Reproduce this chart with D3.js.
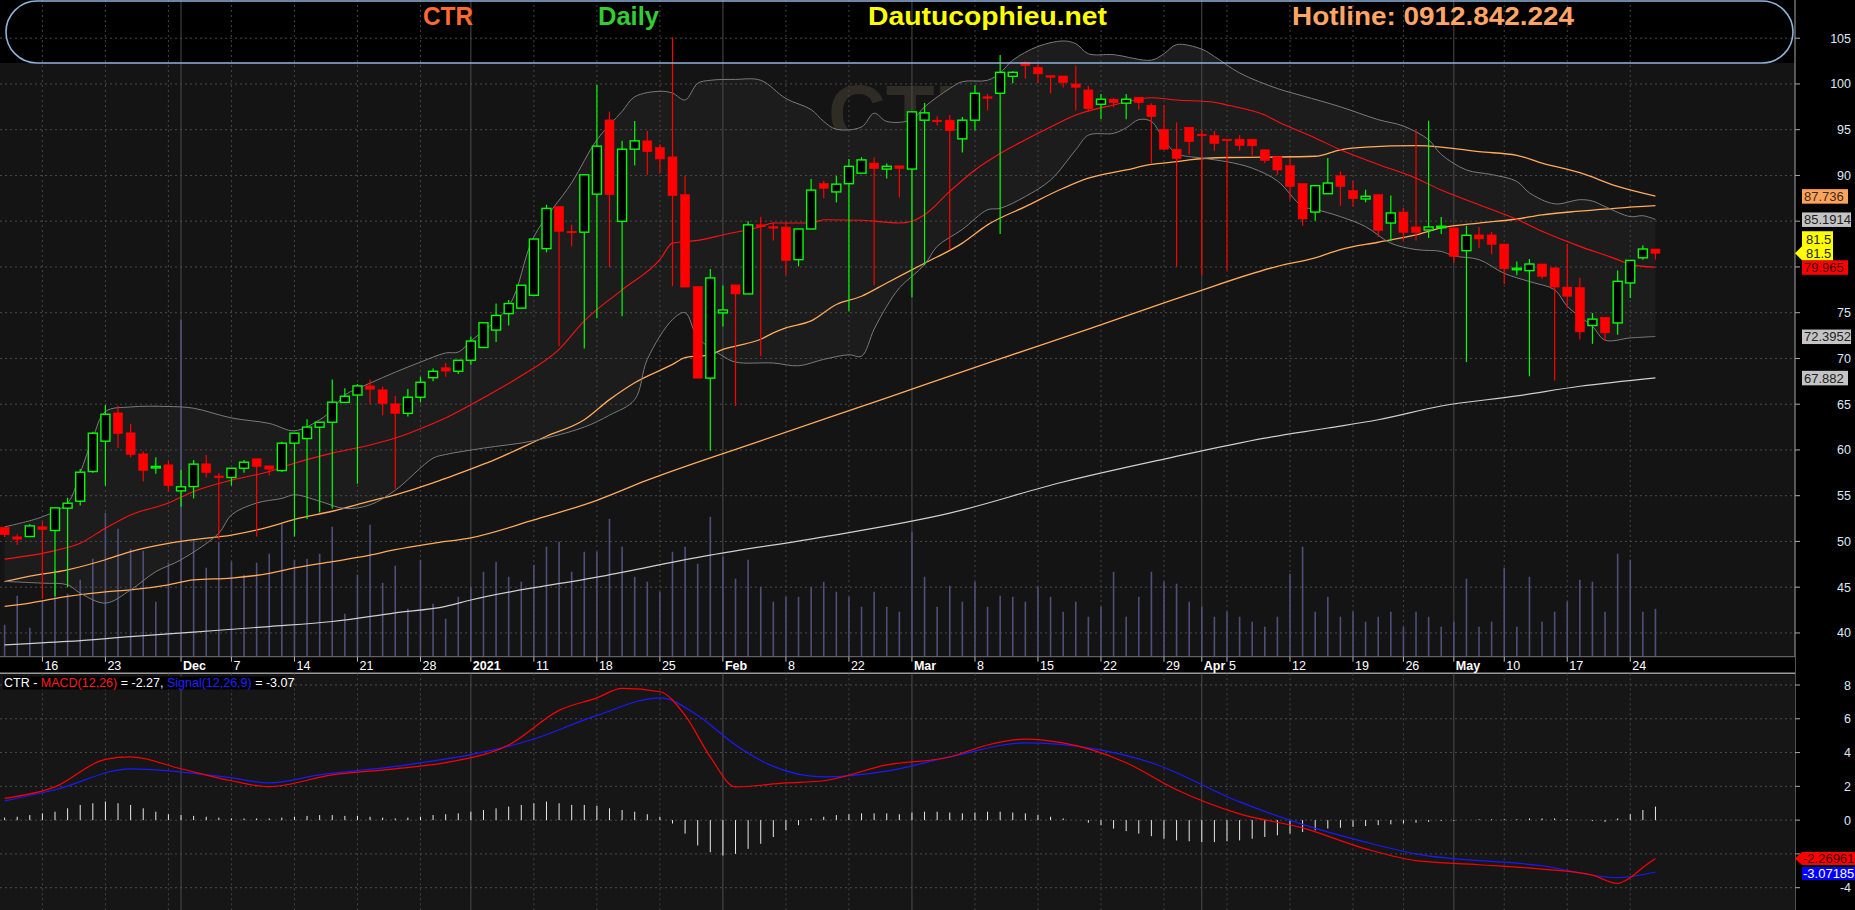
<!DOCTYPE html>
<html><head><meta charset="utf-8">
<script src="https://cdn.jsdelivr.net/npm/d3@7"></script>
<style>body{margin:0;background:#000;overflow:hidden}svg{display:block}</style>
</head><body><svg id="c" width="1855" height="910"></svg>
<script>
// ---------------- DATA ----------------
const dates = [
"11/11","12/11","13/11","16/11","17/11","18/11","19/11","20/11","23/11","24/11","25/11","26/11","27/11","30/11",
"01/12","02/12","03/12","04/12","07/12","08/12","09/12","10/12","11/12","14/12","15/12","16/12","17/12","18/12","21/12","22/12","23/12","24/12","25/12","28/12","29/12","30/12","31/12",
"04/01","05/01","06/01","07/01","08/01","11/01","12/01","13/01","14/01","15/01","18/01","19/01","20/01","21/01","22/01","25/01","26/01","27/01","28/01","29/01",
"01/02","02/02","03/02","04/02","05/02","08/02","09/02","17/02","18/02","19/02","22/02","23/02","24/02","25/02","26/02",
"01/03","02/03","03/03","04/03","05/03","08/03","09/03","10/03","11/03","12/03","15/03","16/03","17/03","18/03","19/03","22/03","23/03","24/03","25/03","26/03","29/03","30/03","31/03",
"01/04","02/04","05/04","06/04","07/04","08/04","09/04","12/04","13/04","14/04","15/04","16/04","19/04","20/04","22/04","23/04","26/04","27/04","28/04","29/04",
"04/05","05/05","06/05","07/05","10/05","11/05","12/05","13/05","14/05","17/05","18/05","19/05","20/05","21/05","24/05","25/05","26/05"];

const open = [51.53,50.5,50.54,51.6,51.2,53.64,54.4,57.64,60.96,64.05,61.87,59.57,58.15,58.37,
55.53,56.0,58.48,57.15,56.99,58.0,59.03,58.26,57.75,60.74,61.25,62.49,63.03,65.2,66.0,67.0,66.57,65.04,64.0,65.76,67.9,68.98,68.6,
69.8,71.2,73.1,74.9,75.5,76.9,82.0,86.6,83.9,83.8,87.96,96.07,84.98,92.87,93.78,93.05,92.03,87.9,77.85,67.85,
74.98,78.04,77.05,84.6,84.4,84.36,80.8,84.15,89.1,88.2,89.1,90.25,91.35,90.7,91.05,
90.7,96.04,96.04,96.04,94.0,96.04,98.6,98.98,100.84,102.36,101.8,100.9,100.87,100.0,99.35,97.78,98.33,97.9,98.55,97.67,95.05,92.87,95.27,
94.5,94.36,93.96,93.96,93.96,92.8,92.07,91.07,89.1,86.0,88.0,89.97,88.34,87.43,87.9,84.8,86.0,84.37,84.04,84.4,
84.26,81.78,83.5,83.5,82.5,79.8,79.6,80.32,79.9,77.8,77.74,73.6,74.5,73.88,78.25,81.0,81.96];
const high = [51.6,50.8,51.9,52.2,53.7,54.77,57.93,62.0,64.93,64.85,62.85,59.86,59.2,58.85,
57.8,58.9,59.46,57.46,58.0,58.9,59.03,58.26,60.9,61.83,63.36,63.03,67.7,66.75,67.2,67.7,66.9,65.9,66.67,68.0,68.9,69.5,69.8,
72.4,73.9,76.0,76.4,78.0,83.05,86.8,86.6,84.6,90.07,99.9,96.98,93.78,95.96,94.87,93.4,105.1,89.96,77.85,79.78,
77.96,78.04,85.0,85.5,84.9,84.87,84.15,89.6,89.4,89.96,91.8,92.0,91.96,91.3,91.05,
96.95,97.93,96.47,96.6,96.4,99.85,98.9,103.16,101.4,102.47,102.18,100.9,100.87,102.0,99.78,98.9,98.44,98.9,98.55,97.9,97.7,95.8,95.27,
94.98,94.87,93.96,94.4,93.96,92.8,92.07,91.9,89.1,88.88,91.9,90.45,89.46,88.45,87.9,87.8,86.44,94.93,95.98,85.46,
84.26,84.5,84.37,83.82,82.5,80.6,80.87,80.32,79.9,82.5,78.8,74.97,74.5,79.6,80.72,82.36,81.96];
const low = [50.5,49.6,50.5,43.7,44.0,45.0,53.93,57.5,56.08,60.2,59.2,56.55,57.4,55.45,
53.8,54.7,57.0,50.18,56.1,57.5,50.54,57.2,57.6,50.54,52.44,53.17,53.6,65.2,56.3,65.0,63.8,55.75,63.65,65.2,67.5,68.0,68.3,
69.3,71.2,71.8,73.6,75.5,76.9,81.6,71.35,82.25,71.1,74.4,79.96,74.6,91.1,90.07,90.2,77.9,77.8,67.85,59.9,
73.5,64.8,77.05,70.25,82.9,79.1,80.07,84.15,87.5,87.05,75.16,90.25,78.0,89.67,87.6,
76.7,80.2,95.45,81.9,92.5,94.9,97.1,83.6,100.07,100.58,100.07,98.98,99.6,97.1,96.98,96.15,97.45,96.15,97.2,91.35,92.8,80.0,92.25,
79.1,92.7,79.6,92.7,92.15,91.35,90.07,87.35,84.5,85.06,88.0,86.7,86.62,87.06,83.27,82.8,82.8,82.9,83.16,83.6,
80.43,69.6,82.07,81.4,78.14,79.1,68.05,78.7,67.6,75.5,72.06,71.6,71.95,72.6,76.6,80.8,80.8];
const close = [50.73,50.25,51.7,51.3,53.67,54.18,57.57,61.83,63.9,61.8,59.5,57.75,58.2,56.1,
55.97,58.45,57.53,57.1,58.0,58.66,58.19,57.9,60.74,61.83,62.5,63.03,65.22,65.87,67.0,66.64,65.07,64.0,65.76,67.4,68.6,68.62,69.8,
71.9,73.9,74.7,76.0,78.0,83.05,86.4,83.9,83.8,90.07,93.2,87.9,92.87,93.78,92.6,91.8,87.8,77.8,67.85,78.8,
75.3,77.05,84.6,84.4,84.35,80.7,84.15,88.4,88.6,89.05,91.0,91.7,90.76,91.0,90.76,
96.95,96.84,96.0,94.9,96.04,98.98,98.5,101.27,101.27,102.0,101.1,100.85,100.15,99.64,97.3,98.33,97.96,98.33,97.96,96.44,92.87,91.85,93.7,
94.45,93.5,93.9,93.27,93.24,91.64,90.6,88.8,85.24,88.88,89.17,88.8,87.46,87.72,84.0,85.9,83.78,83.78,84.37,84.45,
81.16,83.46,83.06,82.47,79.8,79.86,80.32,78.98,77.8,76.8,72.9,74.3,72.8,78.43,80.72,81.96,81.5];
// volume, thousand shares
const volume = [32,61,29,55,87,63,77,98,144,128,108,106,55,94,
337,117,89,115,95,82,94,103,133,97,98,103,130,43,82,132,74,91,48,97,53,38,60,
70,85,95,80,75,92,110,115,85,105,105,138,110,80,75,65,105,110,93,140,
100,78,97,70,55,60,60,70,75,65,60,50,65,50,45,
125,80,50,71,55,75,50,61,60,55,70,60,45,55,40,50,85,40,60,85,75,73,55,
50,40,45,40,35,30,40,83,110,45,60,40,45,35,40,45,30,45,40,30,
35,78,30,35,89,30,80,35,45,55,77,75,45,103,97,45,48];

// indicator lines sampled as [bar index, value]
const ma20 = [[0,48.07],[4,49.0],[6,49.8],[8,51.45],[10,52.9],[13,54.2],[15,55.46],[18,56.7],[21,57.65],[23,58.55],[26,59.65],[29,60.55],[31,61.3],[34,62.9],[35,63.5],[38,65.7],[41,68.1],[44,71.0],[46,74.1],[49,77.5],[52,80.8],[53,82.6],[55,82.9],[57,83.5],[60,84.4],[61,84.8],[64,84.8],[65,85.16],[68,85.1],[71,84.8],[72,85.0],[73,85.7],[75,88.25],[77,90.6],[79,92.4],[81,93.9],[83,95.3],[85,96.6],[88,97.7],[91,98.5],[93,98.25],[96,98.0],[97,97.7],[100,96.6],[101,95.9],[104,94.1],[106,92.8],[109,91.2],[112,89.7],[114,88.4],[117,86.8],[120,85.2],[122,83.9],[125,82.25],[128,80.8],[129,80.25],[131,79.965]];
const bbUpper = [[0,51.6],[3,52.7],[5,54.2],[6,57.5],[7,61.3],[8,64.2],[10,64.7],[13,64.75],[15,64.56],[18,63.5],[21,62.9],[23,62.1],[25,63.3],[26,64.4],[27,66.0],[29,67.3],[31,68.5],[33,69.6],[35,70.6],[36,70.7],[37,71.9],[40,75.7],[42,83.3],[45,89.2],[47,93.9],[49,97.0],[50,98.6],[52,99.2],[53,99.0],[54,98.25],[55,100.07],[56,100.4],[58,100.5],[60,100.4],[62,98.4],[64,97.2],[65,95.9],[66,95.05],[68,95.3],[69,96.8],[70,95.9],[72,96.1],[73,97.5],[75,99.5],[76,100.25],[78,100.4],[79,101.2],[80,102.6],[82,104.1],[84,104.7],[85,104.4],[86,103.3],[88,103.2],[91,102.6],[92,103.3],[93,104.3],[95,103.8],[96,103.0],[98,101.2],[101,99.5],[103,98.7],[106,97.5],[109,96.1],[111,95.4],[113,93.9],[114,92.3],[116,90.6],[118,90.1],[120,89.35],[121,88.1],[123,86.9],[125,87.35],[126,87.2],[127,86.6],[129,85.5],[130,85.6],[131,85.19]];
const bbLower = [[0,45.63],[3,45.44],[5,45.26],[6,44.35],[8,43.26],[10,44.7],[12,46.7],[14,48.0],[17,50.9],[18,52.9],[20,54.2],[22,54.7],[23,55.1],[25,54.4],[27,53.6],[29,54.0],[31,55.6],[34,59.1],[35,59.5],[38,60.2],[42,61.0],[46,62.5],[48,63.8],[50,65.5],[51,69.9],[53,74.25],[54,75.0],[55,72.3],[57,70.25],[58,69.6],[61,69.5],[63,69.2],[65,69.9],[67,70.4],[68,70.25],[69,73.2],[70,75.7],[71,77.7],[73,80.25],[74,82.25],[76,84.1],[78,86.25],[79,86.4],[81,87.7],[83,89.5],[85,92.8],[86,94.4],[88,94.6],[89,95.2],[90,96.1],[91,95.9],[92,93.9],[93,92.4],[95,91.9],[97,91.5],[99,90.8],[101,89.4],[103,86.6],[104,86.3],[106,85.5],[108,84.4],[110,82.6],[112,81.9],[114,81.7],[115,81.2],[117,80.8],[119,79.3],[121,78.4],[123,77.5],[124,75.7],[126,73.5],[127,72.0],[129,72.24],[131,72.4]];
const ma50 = [[0,45.6],[2,46.2],[5,46.9],[8,48.0],[10,48.9],[13,49.8],[15,50.2],[18,50.7],[21,51.6],[23,52.4],[26,53.3],[29,54.4],[31,55.1],[34,56.4],[35,56.9],[39,59.0],[43,61.5],[46,63.3],[48,65.5],[50,67.35],[53,69.35],[54,70.1],[56,70.4],[57,71.0],[58,71.35],[60,72.1],[61,72.8],[62,73.35],[64,74.1],[66,75.9],[68,76.8],[70,78.25],[73,80.4],[76,82.6],[78,84.6],[81,86.6],[84,88.6],[86,89.7],[89,90.6],[91,91.2],[93,91.5],[94,91.7],[97,91.96],[100,92.0],[104,92.1],[106,92.8],[108,93.1],[112,93.25],[114,93.1],[117,92.6],[120,92.2],[122,91.35],[125,90.3],[128,88.8],[131,87.736]];
const ma100 = [[0,42.9],[2,43.26],[5,44.0],[8,44.5],[10,44.7],[13,45.26],[15,45.8],[18,46.0],[21,46.5],[23,47.1],[26,47.8],[29,48.5],[31,49.1],[34,49.8],[37,50.4],[42,52.35],[47,54.5],[51,56.7],[60,61.0],[70,65.7],[78,69.5],[86,73.2],[94,77.0],[101,80.07],[104,81.0],[106,81.9],[109,82.7],[112,83.5],[114,84.26],[117,84.8],[120,85.24],[122,85.7],[125,86.1],[128,86.44],[131,86.7]];
const ma200 = [[0,38.7],[5,39.07],[10,39.6],[15,40.1],[21,40.7],[26,41.25],[31,42.2],[35,42.9],[37,43.6],[47,46.1],[56,48.5],[65,50.5],[75,53.1],[84,56.5],[92,59.0],[100,61.3],[105,62.4],[109,63.3],[114,64.8],[120,65.9],[125,66.96],[131,67.882]];
const macd = [[0,1.29],[4,1.97],[8,3.6],[10,3.74],[14,3.04],[18,2.33],[21,1.98],[26,2.68],[31,3.04],[35,3.4],[40,4.45],[44,6.5],[47,7.24],[49,7.8],[52,7.6],[54,6.2],[56,3.74],[58,1.97],[62,2.2],[65,2.33],[70,3.27],[75,3.74],[78,4.45],[81,4.8],[84,4.57],[89,3.4],[93,1.8],[98,0.37],[103,-0.46],[108,-1.7],[112,-2.4],[117,-2.64],[122,-2.9],[126,-3.26],[128,-3.75],[129,-3.4],[130,-2.8],[131,-2.27]];
const signal = [[0,1.14],[4,1.8],[10,3.04],[18,2.5],[21,2.2],[25,2.68],[31,3.18],[42,4.8],[47,6.2],[52,7.24],[55,6.2],[58,4.45],[61,3.18],[65,2.56],[70,2.9],[75,3.74],[81,4.57],[86,4.28],[91,3.4],[98,1.08],[103,-0.25],[108,-1.3],[112,-2.0],[122,-2.7],[128,-3.4],[131,-3.07]];
const hist = [0.15,0.2,0.3,0.4,0.5,0.7,0.9,1.0,1.1,1.0,0.9,0.7,0.5,0.35,0.3,0.25,0.2,0.15,0.1,0.1,0.1,0.1,0.15,0.2,0.25,0.3,0.3,0.25,0.25,0.2,0.15,0.1,0.15,0.2,0.3,0.35,0.4,
0.5,0.6,0.7,0.8,0.9,1.0,1.1,1.0,0.9,0.9,0.85,0.7,0.6,0.5,0.35,0.2,-0.2,-0.8,-1.5,-1.9,
-2.1,-2.0,-1.7,-1.4,-1.0,-0.6,-0.3,0.1,0.2,0.3,0.35,0.4,0.4,0.4,0.35,
0.45,0.5,0.5,0.45,0.4,0.45,0.5,0.5,0.45,0.4,0.3,0.2,0.1,0.0,-0.15,-0.3,-0.5,-0.65,-0.8,-0.95,-1.1,-1.2,-1.25,
-1.3,-1.3,-1.25,-1.2,-1.1,-1.0,-0.9,-0.8,-0.7,-0.6,-0.5,-0.45,-0.4,-0.35,-0.3,-0.25,-0.2,-0.15,-0.1,-0.05,
-0.05,0.0,0.05,0.05,0.05,0.05,0.1,0.1,0.1,0.05,0.0,-0.05,-0.1,0.1,0.35,0.6,0.8];

const priceTicks = [105,100,95,90,85,80,75,70,65,60,55,50,45,40];
const macdTicks = [8,6,4,2,0,-2,-4];
// tick labels hidden behind value tags in the reference
const hiddenPriceLabels = [85,80];
const hiddenMacdLabels = [-2];
// date axis labels: [bar index, label, isMonth]
const dateLabels = [[3,"16",0],[8,"23",0],[14,"Dec",1],[18,"7",0],[23,"14",0],[28,"21",0],[33,"28",0],[37,"2021",1],[42,"11",0],[47,"18",0],[52,"25",0],[57,"Feb",1],[62,"8",0],[67,"22",0],[72,"Mar",1],[77,"8",0],[82,"15",0],[87,"22",0],[92,"29",0],[95,"Apr",1],[97,"5",0],[102,"12",0],[107,"19",0],[111,"26",0],[115,"May",1],[119,"10",0],[124,"17",0],[129,"24",0]];
const weekStarts = [3,8,13,18,23,28,33,37,42,47,52,57,62,67,72,77,82,87,92,97,102,107,111,115,119,124,129];
const monthStarts = [14,37,57,72,95,115];
const lastValues = {ma50:87.736, bbU:85.1914, close:81.5, ma20:79.965, bbL:72.3952, ma200:67.882, macd:-2.26961, signal:-3.07185};

// ---------------- LAYOUT ----------------
const W=1855,H=910, PR=1795, PB=656.7, DB=673.3;
const svg = d3.select("#c");
const x = d3.scaleLinear().domain([0,131]).range([4.6, 4.6+131*12.602]);
const y = d3.scaleLinear().domain([40,105]).range([632.95,38.2]);
const yv = d3.scaleLinear().domain([0,1000]).range([PB, PB-1000]);
const ym = d3.scaleLinear().domain([-4,8]).range([887.7,685]);

svg.append("rect").attr("width",W).attr("height",H).attr("fill","#000");
const defs = svg.append("defs");
defs.append("clipPath").attr("id","cp").append("rect").attr("x",0).attr("y",0).attr("width",PR).attr("height",PB);
defs.append("clipPath").attr("id","cm").append("rect").attr("x",0).attr("y",DB).attr("width",PR).attr("height",H-DB);

// price panel background
const gp = svg.append("g").attr("clip-path","url(#cp)");
gp.append("rect").attr("x",0).attr("y",63).attr("width",PR).attr("height",PB-63).attr("fill","#141414");
// watermark
gp.append("text").attr("x",828).attr("y",141).attr("font-family","Liberation Sans, Arial").attr("font-weight","bold")
  .attr("font-size",80).attr("fill","#2e2c24").text("CTR");
// bollinger fill
const lineC = d3.line().x(d=>x(d[0])).y(d=>y(d[1])).curve(d3.curveCatmullRom);
const bandPath = lineC(bbUpper) + "L" + lineC(bbLower.slice().reverse()).slice(1) + "Z";
gp.append("path").attr("d",bandPath).attr("fill","#1c1c1c");

// gridlines
priceTicks.forEach(t=>{
  gp.append("line").attr("x1",0).attr("x2",PR).attr("y1",y(t)).attr("y2",y(t))
    .attr("stroke","#4a4a4a").attr("stroke-dasharray","2,3").attr("stroke-width",1);
});
function vgrid(g,y1,y2){
  weekStarts.forEach(i=>{
    if(monthStarts.includes(i)) return;
    g.append("line").attr("x1",x(i)).attr("x2",x(i)).attr("y1",y1).attr("y2",y2)
      .attr("stroke","#444").attr("stroke-dasharray","2,3");
  });
  monthStarts.forEach(i=>{
    g.append("line").attr("x1",x(i)).attr("x2",x(i)).attr("y1",y1).attr("y2",y2)
      .attr("stroke","#4c4c4c").attr("stroke-width",1);
  });
}
vgrid(gp,0,PB);

// volume
gp.selectAll(".vol").data(volume).enter().append("line")
  .attr("x1",(d,i)=>x(i)).attr("x2",(d,i)=>x(i)).attr("y1",PB).attr("y2",d=>yv(d))
  .attr("stroke","#4f4f7c").attr("stroke-width",1.6);

// indicator lines
const lineM = d3.line().x(d=>x(d[0])).y(d=>y(d[1])).curve(d3.curveMonotoneX);
gp.append("path").attr("d",lineM(ma200)).attr("fill","none").attr("stroke","#cfcfcf").attr("stroke-width",1.2);
gp.append("path").attr("d",lineM(ma100)).attr("fill","none").attr("stroke","#ffaa5a").attr("stroke-width",1.3);
gp.append("path").attr("d",lineM(ma50)).attr("fill","none").attr("stroke","#ffaa5a").attr("stroke-width",1.3);
gp.append("path").attr("d",lineC(bbUpper)).attr("fill","none").attr("stroke","#7a7a7a").attr("stroke-width",1);
gp.append("path").attr("d",lineC(bbLower)).attr("fill","none").attr("stroke","#7a7a7a").attr("stroke-width",1);
gp.append("path").attr("d",lineM(ma20)).attr("fill","none").attr("stroke","#ff1010").attr("stroke-width",1.1);

// candles
const bars = d3.range(close.length);
bars.forEach(i=>{
  const up = close[i] >= open[i];
  const col = up ? "#00ff00" : "#ff0000";
  gp.append("line").attr("x1",x(i)).attr("x2",x(i)).attr("y1",y(high[i])).attr("y2",y(low[i]))
    .attr("stroke",col).attr("stroke-width",1.2);
  const top = y(Math.max(open[i],close[i])), bot = y(Math.min(open[i],close[i]));
  const h = Math.max(1.5, bot-top);
  gp.append("rect").attr("x",x(i)-4.5).attr("width",9).attr("y",top).attr("height",h)
    .attr("fill",up?"#000":"#ff0000").attr("stroke",col).attr("stroke-width",up?1.4:0.6);
});

// header overlay
svg.append("rect").attr("x",6).attr("y",1).attr("width",1787).attr("height",62).attr("rx",31).attr("ry",31)
  .attr("fill","none").attr("stroke","#8fb3dc").attr("stroke-width",1.6);
const hdr = [["CTR",423,50,"#ff6a2e"],["Daily",598,61,"#33cc33"],["Dautucophieu.net",868,239,"#ffff00"],["Hotline: 0912.842.224",1292,282,"#ffa566"]];
hdr.forEach(h=>{
  svg.append("text").attr("x",h[1]).attr("y",25).attr("font-family","Liberation Sans Narrow, Liberation Sans, Arial")
    .attr("font-weight","bold").attr("font-size",25).attr("fill",h[3])
    .attr("textLength",h[2]).attr("lengthAdjust","spacingAndGlyphs").text(h[0]);
});

// right axis
svg.append("line").attr("x1",PR).attr("x2",PR).attr("y1",0).attr("y2",H).attr("stroke","#8a8a8a").attr("stroke-width",1.2);
const axFont = "Liberation Sans, Arial";
priceTicks.forEach(t=>{
  svg.append("line").attr("x1",PR).attr("x2",PR+5).attr("y1",y(t)).attr("y2",y(t)).attr("stroke","#aaa");
  if(hiddenPriceLabels.includes(t)) return;
  svg.append("text").attr("x",1851).attr("y",y(t)).attr("dy","0.36em").attr("text-anchor","end")
    .attr("font-family",axFont).attr("font-size",12.5).attr("fill","#dde6f5").text(t);
});
function tag(yc,txt,bg,fg,arrow,w){
  const g = svg.append("g");
  if(arrow) g.append("path").attr("d",`M${PR},${yc}L1802,${yc-7}L1802,${yc+7}Z`).attr("fill",bg);
  g.append("rect").attr("x",1802).attr("y",yc-7).attr("width",w).attr("height",14.5).attr("fill",bg);
  g.append("text").attr("x",1804).attr("y",yc).attr("dy","0.37em").attr("font-family",axFont)
    .attr("font-size",13).attr("fill",fg).text(txt);
}
tag(y(lastValues.ma50),"87.736","#ffa35c","#3a2a1a",false,46);
tag(y(lastValues.bbU),"85.1914","#c4c4c4","#222",false,49);
tag(y(lastValues.ma20),"79.965","#ff0000","#3a0000",false,46);
// close price tag (two lines, arrow at the price)
{
  const yc = y(lastValues.close);
  svg.append("path").attr("d",`M${PR},${yc}L1802,${yc-7}L1802,${yc+7}Z`).attr("fill","#ffff00");
  svg.append("rect").attr("x",1802).attr("y",yc-22).attr("width",31).attr("height",29).attr("fill","#ffff00");
  svg.append("text").attr("x",1806).attr("y",yc-14.5).attr("dy","0.37em").attr("font-family",axFont).attr("font-size",13).attr("fill","#222").text("81.5");
  svg.append("text").attr("x",1806).attr("y",yc-0.5).attr("dy","0.37em").attr("font-family",axFont).attr("font-size",13).attr("fill","#222").text("81.5");
}
tag(y(lastValues.bbL),"72.3952","#c4c4c4","#222",false,49);
tag(y(lastValues.ma200),"67.882","#c4c4c4","#222",false,46);

// date strip
svg.append("rect").attr("x",0).attr("y",PB).attr("width",PR).attr("height",DB-PB).attr("fill","#000");
svg.append("line").attr("x1",0).attr("x2",PR).attr("y1",PB).attr("y2",PB).attr("stroke","#777").attr("stroke-width",1);
svg.append("line").attr("x1",0).attr("x2",PR).attr("y1",DB).attr("y2",DB).attr("stroke","#9a9a9a").attr("stroke-width",1.6);
dateLabels.forEach(d=>{
  svg.append("line").attr("x1",x(d[0])).attr("x2",x(d[0])).attr("y1",PB).attr("y2",PB+5).attr("stroke","#bbb");
  svg.append("text").attr("x",x(d[0])+2).attr("y",669.5).attr("font-family",axFont)
    .attr("font-weight",d[2]?"bold":"normal").attr("font-size",12.5).attr("fill","#fff").text(d[1]);
});

// MACD panel
const gm = svg.append("g").attr("clip-path","url(#cm)");
gm.append("rect").attr("x",0).attr("y",DB+1).attr("width",PR).attr("height",H-DB).attr("fill","#161616");
macdTicks.forEach(t=>{
  gm.append("line").attr("x1",0).attr("x2",PR).attr("y1",ym(t)).attr("y2",ym(t))
    .attr("stroke","#4a4a4a").attr("stroke-dasharray","2,3");
});
vgrid(gm,DB,H);
gm.selectAll(".h").data(hist).enter().append("line")
  .attr("x1",(d,i)=>x(i)).attr("x2",(d,i)=>x(i)).attr("y1",ym(0)).attr("y2",d=>ym(d))
  .attr("stroke","#e8e8e8").attr("stroke-width",1);
const lineMm = d3.line().x(d=>x(d[0])).y(d=>ym(d[1])).curve(d3.curveMonotoneX);
gm.append("path").attr("d",lineMm(signal)).attr("fill","none").attr("stroke","#1a1aff").attr("stroke-width",1.2);
gm.append("path").attr("d",lineMm(macd)).attr("fill","none").attr("stroke","#ff0000").attr("stroke-width",1.2);
// MACD title
svg.append("rect").attr("x",3).attr("y",676.5).attr("width",282).attr("height",13).attr("fill","#000");
const tt = svg.append("text").attr("x",4).attr("y",687).attr("font-family",axFont).attr("font-size",12.5);
tt.append("tspan").attr("fill","#fff").text("CTR - ");
tt.append("tspan").attr("fill","#ff1a1a").text("MACD(12,26)");
tt.append("tspan").attr("fill","#fff").text(" = -2.27, ");
tt.append("tspan").attr("fill","#2020ff").text("Signal(12,26,9)");
tt.append("tspan").attr("fill","#fff").text(" = -3.07");
// MACD axis
macdTicks.forEach(t=>{
  svg.append("line").attr("x1",PR).attr("x2",PR+5).attr("y1",ym(t)).attr("y2",ym(t)).attr("stroke","#aaa");
  if(hiddenMacdLabels.includes(t)) return;
  svg.append("text").attr("x",1851).attr("y",ym(t)).attr("dy","0.36em").attr("text-anchor","end")
    .attr("font-family",axFont).attr("font-size",12.5).attr("fill","#dde6f5").text(t);
});
{
  const yc = ym(lastValues.macd);
  svg.append("path").attr("d",`M${PR},${yc}L1802,${yc-6.5}L1802,${yc+6.5}Z`).attr("fill","#ff0000");
  svg.append("rect").attr("x",1802).attr("y",yc-6.5).attr("width",53).attr("height",13).attr("fill","#ff0000");
  svg.append("text").attr("x",1803).attr("y",yc).attr("dy","0.37em").attr("font-family",axFont).attr("font-size",13).attr("fill","#300").text("-2.26961");
  const yb = yc+15;
  svg.append("rect").attr("x",1802).attr("y",yb-6.5).attr("width",53).attr("height",13).attr("fill","#0000ff");
  svg.append("text").attr("x",1803).attr("y",yb).attr("dy","0.37em").attr("font-family",axFont).attr("font-size",13).attr("fill","#fff").text("-3.07185");
}
</script></body></html>
